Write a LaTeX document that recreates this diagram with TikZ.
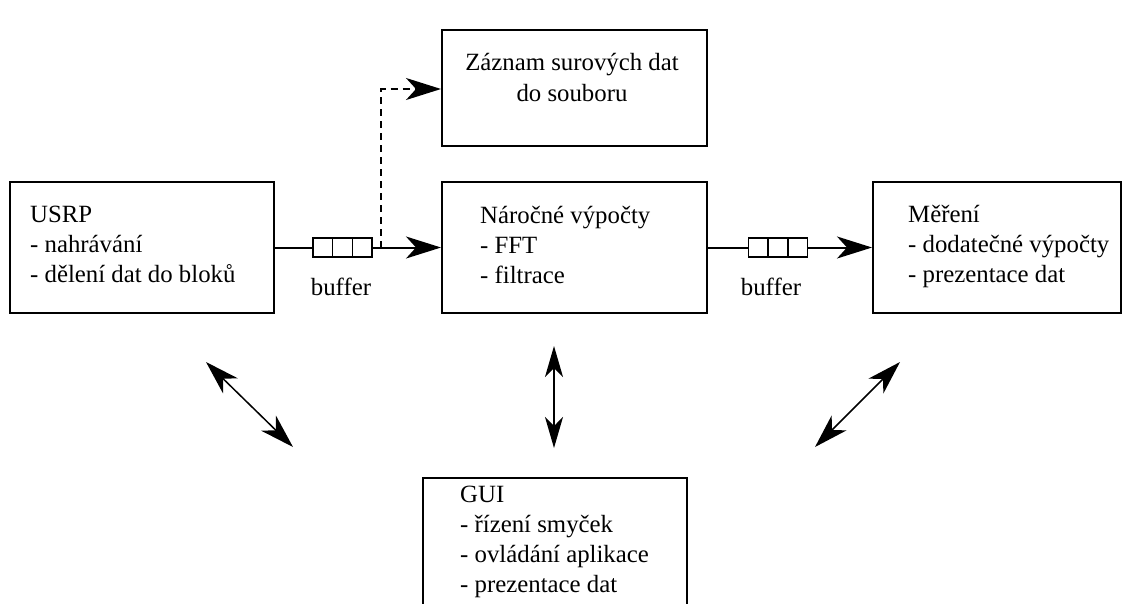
\documentclass[tikz,border=0pt]{standalone}
\usepackage{fontspec}
\setmainfont{Liberation Serif}
\usetikzlibrary{arrows.meta,calc}
\begin{document}
\begin{tikzpicture}[x=1pt,y=-1pt,
  box/.style={draw,line width=2pt,inner sep=0pt},
  txt/.style={align=left,inner sep=0pt,anchor=north west,font=\fontsize{24.8}{30}\selectfont},
  ctxt/.style={align=center,inner sep=0pt,anchor=north,font=\fontsize{24.8}{31}\selectfont},
  lbl/.style={inner sep=0pt,anchor=base,font=\fontsize{24.8}{30}\selectfont},
  conn/.style={line width=2pt,-{Stealth[length=35pt,width=22pt,inset=10pt]}},
  plain/.style={line width=2pt},
  dashconn/.style={conn,dash pattern=on 7pt off 5pt},
  bufbox/.style={draw,line width=1.4pt,inner sep=0pt,minimum width=59pt,minimum height=19pt},
  bufdiv/.style={line width=1.4pt},
  dbl/.style={line width=1.5pt,{Stealth[length=34pt,width=21pt,inset=10pt]}-{Stealth[length=34pt,width=21pt,inset=10pt]}},
  dblv/.style={line width=1.5pt,{Stealth[length=31pt,width=18pt,inset=9pt]}-{Stealth[length=31pt,width=18pt,inset=9pt]}}
]
\useasboundingbox (0,0) rectangle (1130,603);
\clip (0,0) rectangle (1130,603);

% boxes
\node[box,minimum width=264pt,minimum height=131pt] (usrp) at (142,247.5) {};
\node[box,minimum width=265pt,minimum height=131pt] (proc) at (574.5,247.5) {};
\node[box,minimum width=248pt,minimum height=131pt] (meas) at (997,247.5) {};
\node[box,minimum width=265pt,minimum height=116pt] (rec) at (574.5,88) {};
\node[box,minimum width=264pt,minimum height=140pt,anchor=north] (gui) at (555,477) {};

% texts
\node[txt] (usrp-t) at (30,201) {\strut USRP\\- nahrávání\\- dělení dat do bloků};
\node[txt] (proc-t) at (480,202) {\strut Náročné výpočty\\- FFT\\- filtrace};
\node[txt] (meas-t) at (908,201) {\strut Měření\\- dodatečné výpočty\\- prezentace dat};
\node[ctxt] (rec-t) at (572,49) {\strut Záznam surových dat\\do souboru};
\node[txt] (gui-t) at (460,481) {\strut GUI\\- řízení smyček\\- ovládání aplikace\\- prezentace dat};

% buffers
\node[bufbox] (buf1) at (342.5,247.5) {};
\draw[bufdiv] ($(buf1.north west)!1/3!(buf1.north east)$) -- ($(buf1.south west)!1/3!(buf1.south east)$);
\draw[bufdiv] ($(buf1.north west)!2/3!(buf1.north east)$) -- ($(buf1.south west)!2/3!(buf1.south east)$);
\node[lbl] (buf1-l) at (341,295) {buffer};

\node[bufbox] (buf2) at (778,247.5) {};
\draw[bufdiv] ($(buf2.north west)!1/3!(buf2.north east)$) -- ($(buf2.south west)!1/3!(buf2.south east)$);
\draw[bufdiv] ($(buf2.north west)!2/3!(buf2.north east)$) -- ($(buf2.south west)!2/3!(buf2.south east)$);
\node[lbl] (buf2-l) at (771,295) {buffer};

% connectors
\draw[plain] (usrp.east) -- (buf1.west);
\draw[conn] (buf1.east) -- (proc.west);
\coordinate (split) at (381,247.5);
\draw[dashconn] (split) |- ([yshift=-1pt]rec.west);
\draw[plain] (proc.east) -- (buf2.west);
\draw[conn] (buf2.east) -- (meas.west);

% double arrows
\coordinate (a1) at (206,362);
\coordinate (a2) at (293,447);
\coordinate (b1) at (554,346);
\coordinate (b2) at (554,448);
\coordinate (c1) at (900,362);
\coordinate (c2) at (815,447);
\draw[dbl] (a1) -- (a2);
\draw[dblv] (b1) -- (b2);
\draw[dbl] (c1) -- (c2);
\end{tikzpicture}
\end{document}
